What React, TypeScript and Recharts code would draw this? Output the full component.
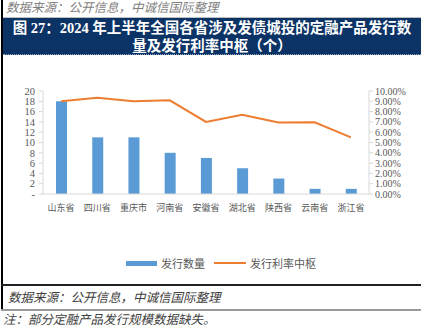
import React from "react";
import { ComposedChart, Bar, Line, XAxis, YAxis, Legend } from "recharts";

const provinces = ["山东省", "四川省", "重庆市", "河南省", "安徽省", "湖北省", "陕西省", "云南省", "浙江省"];
const issueCount = [18, 11, 11, 8, 7, 5, 3, 1, 1];
const rateMedian = [0.09, 0.0935, 0.09, 0.091, 0.07, 0.077, 0.0695, 0.0697, 0.055];
const leftTicks = [0, 2, 4, 6, 8, 10, 12, 14, 16, 18, 20];
const rightTicks = [0, 0.01, 0.02, 0.03, 0.04, 0.05, 0.06, 0.07, 0.08, 0.09, 0.1];

const data = provinces.map((p, i) => ({ name: p, count: issueCount[i], rate: rateMedian[i] }));

const GRAY = "#595959";
const AXIS = "#d9d9d9";
const BLUE = "#5b9bd5";
const ORANGE = "#ed7d31";
const SERIF = "'Liberation Serif', 'Times New Roman', 'Noto Sans CJK SC', serif";
const CJK = "'Noto Sans CJK SC', sans-serif";

const LegendContent = () => (
  <div style={{ position: "relative", width: 421, height: 16, fontFamily: CJK, fontSize: 11, color: GRAY }}>
    <div style={{ position: "absolute", left: 126, top: 6, width: 31, height: 5, background: BLUE }} />
    <div style={{ position: "absolute", left: 161, top: 0, lineHeight: "16px" }}>发行数量</div>
    <div style={{ position: "absolute", left: 214, top: 7, width: 32, height: 2, background: ORANGE }} />
    <div style={{ position: "absolute", left: 250, top: 0, lineHeight: "16px" }}>发行利率中枢</div>
  </div>
);

export default function App() {
  return (
    <div style={{ position: "fixed", left: 0, top: 0, width: 421, height: 330, background: "#fff", overflow: "hidden" }}>
      <div
        style={{
          position: "absolute", left: 6, top: -3, fontFamily: CJK, fontStyle: "italic",
          fontSize: 12.5, color: "#7f7f7f", whiteSpace: "nowrap",
        }}
      >
        数据来源：公开信息，中诚信国际整理
      </div>
      <div style={{ position: "absolute", left: 3, top: 17, width: 418, height: 1, background: "#bfbfbf" }} />
      <div
        style={{
          position: "absolute", left: 3, top: 18, width: 418, height: 37, background: "#0c3366",
          borderBottom: "1px dotted #8fa3c0", boxSizing: "border-box",
          color: "#fff", fontFamily: "'Liberation Serif', 'Noto Sans CJK SC', serif", fontWeight: "bold",
          fontSize: 14.5, lineHeight: "18px", textAlign: "center", paddingTop: 1, whiteSpace: "nowrap",
        }}
      >
        图 27：2024 年上半年全国各省涉及发债城投的定融产品发行数
        <br />
        量及发行利率中枢（个）
      </div>
      <div style={{ position: "absolute", left: 0, top: 56 }}>
        <ComposedChart
          width={421}
          height={229}
          data={data}
          margin={{ top: 35, right: 0, bottom: 61, left: 0 }}
        >
          <XAxis
            dataKey="name"
            interval={0}
            tickLine={false}
            axisLine={{ stroke: AXIS }}
            tick={{ fill: GRAY, fontSize: 9, fontFamily: CJK }}
            tickMargin={5}
            height={30}
          />
          <YAxis
            yAxisId="left"
            orientation="left"
            domain={[0, 20]}
            ticks={leftTicks}
            interval={0}
            width={43}
            axisLine={{ stroke: AXIS }}
            tickLine={{ stroke: AXIS }}
            tickSize={4}
            tickMargin={4}
            tick={{ fill: GRAY, fontSize: 10.5, fontFamily: SERIF }}
            tickFormatter={(v: number) => (v === 0 ? "-" : String(v))}
          />
          <YAxis
            yAxisId="right"
            orientation="right"
            domain={[0, 0.1]}
            ticks={rightTicks}
            interval={0}
            width={52}
            axisLine={{ stroke: AXIS }}
            tickLine={{ stroke: AXIS }}
            tickSize={4}
            tickMargin={2}
            tick={{ fill: GRAY, fontSize: 10, fontFamily: SERIF }}
            tickFormatter={(v: number) => (v * 100).toFixed(2) + "%"}
          />
          <Bar yAxisId="left" dataKey="count" name="发行数量" fill={BLUE} barSize={11} isAnimationActive={false} />
          <Line
            yAxisId="right"
            dataKey="rate"
            name="发行利率中枢"
            stroke={ORANGE}
            strokeWidth={2}
            dot={false}
            activeDot={false}
            type="linear"
            isAnimationActive={false}
          />
          <Legend
            verticalAlign="middle"
            content={<LegendContent />}
            wrapperStyle={{ top: 199, left: 0, width: 421, height: 16 }}
          />
        </ComposedChart>
      </div>
      <div style={{ position: "absolute", left: 1, top: 0, width: 2, height: 310, background: "#000" }} />
      <div style={{ position: "absolute", left: 1, top: 284, width: 420, height: 2, background: "#222" }} />
      <div
        style={{
          position: "absolute", left: 8, top: 288, fontFamily: CJK, fontStyle: "italic",
          fontSize: 12.5, color: "#404040", whiteSpace: "nowrap", lineHeight: "18px",
        }}
      >
        数据来源：公开信息，中诚信国际整理
      </div>
      <div style={{ position: "absolute", left: 1, top: 309, width: 420, height: 2, background: "#9a9a9a" }} />
      <div
        style={{
          position: "absolute", left: 3, top: 310, fontFamily: CJK, fontStyle: "italic",
          fontSize: 12.5, color: "#404040", whiteSpace: "nowrap", lineHeight: "18px",
        }}
      >
        注：部分定融产品发行规模数据缺失。
      </div>
    </div>
  );
}
